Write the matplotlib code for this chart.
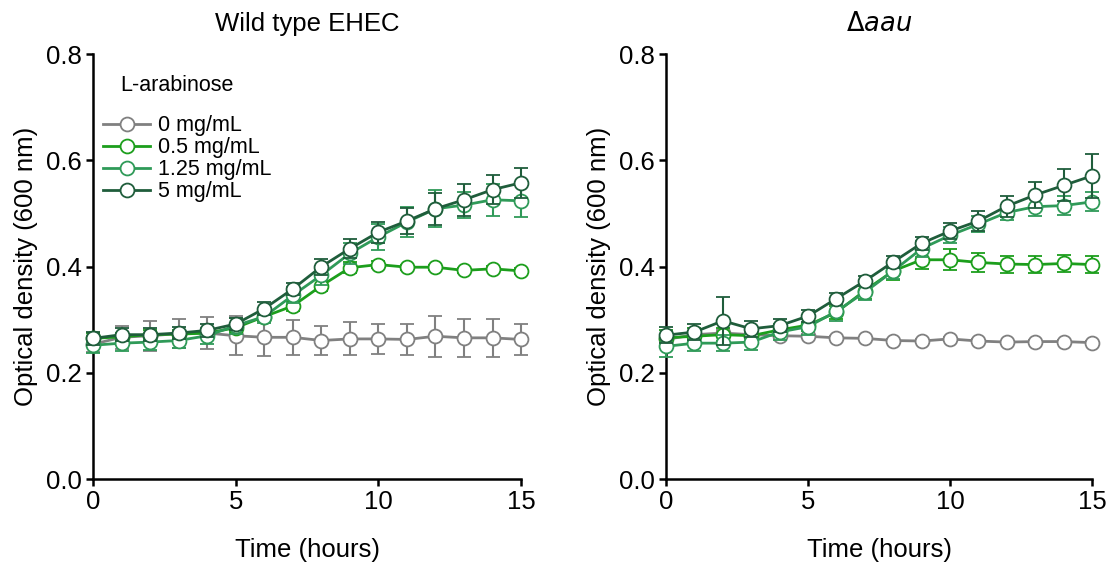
import numpy as np
import matplotlib
matplotlib.use("Agg")
import matplotlib.pyplot as plt

plt.rcParams['font.family'] = ['Liberation Sans', 'DejaVu Sans']

hours = np.arange(16)
labels = ['0 mg/mL', '0.5 mg/mL', '1.25 mg/mL', '5 mg/mL']
colors = ['#808080', '#1c9e1c', '#2f9a58', '#1f5d3b']

# wild type EHEC, mean OD600
wt_0 = [0.254, 0.267, 0.270, 0.274, 0.275, 0.270, 0.267, 0.267, 0.261, 0.264, 0.264, 0.263, 0.269, 0.266, 0.266, 0.263]
wt_05 = [0.265, 0.268, 0.272, 0.273, 0.275, 0.285, 0.306, 0.326, 0.364, 0.398, 0.404, 0.399, 0.399, 0.393, 0.396, 0.392]
wt_125 = [0.252, 0.256, 0.258, 0.261, 0.270, 0.289, 0.306, 0.346, 0.384, 0.425, 0.456, 0.484, 0.509, 0.516, 0.526, 0.524]
wt_5 = [0.265, 0.272, 0.272, 0.275, 0.280, 0.292, 0.321, 0.358, 0.400, 0.434, 0.465, 0.486, 0.509, 0.526, 0.545, 0.558]
wt_0_err = [0.015, 0.022, 0.028, 0.028, 0.030, 0.037, 0.035, 0.033, 0.028, 0.031, 0.029, 0.030, 0.039, 0.036, 0.036, 0.030]
wt_05_err = [0.010, 0.008, 0.008, 0.008, 0.008, 0.008, 0.008, 0.010, 0.010, 0.010, 0.006, 0.005, 0.005, 0.005, 0.005, 0.005]
wt_125_err = [0.015, 0.015, 0.015, 0.015, 0.015, 0.015, 0.012, 0.015, 0.018, 0.020, 0.025, 0.028, 0.035, 0.025, 0.030, 0.030]
wt_5_err = [0.012, 0.012, 0.012, 0.012, 0.012, 0.012, 0.012, 0.012, 0.015, 0.018, 0.020, 0.025, 0.030, 0.030, 0.027, 0.028]

# delta aau mutant, mean OD600
aau_0 = [0.263, 0.272, 0.275, 0.272, 0.270, 0.269, 0.266, 0.265, 0.261, 0.260, 0.264, 0.260, 0.258, 0.259, 0.259, 0.257]
aau_05 = [0.266, 0.269, 0.272, 0.270, 0.281, 0.290, 0.314, 0.355, 0.392, 0.413, 0.413, 0.408, 0.405, 0.404, 0.406, 0.404]
aau_125 = [0.250, 0.256, 0.256, 0.258, 0.277, 0.287, 0.316, 0.352, 0.392, 0.434, 0.459, 0.480, 0.502, 0.513, 0.515, 0.522]
aau_5 = [0.271, 0.277, 0.298, 0.283, 0.289, 0.307, 0.340, 0.373, 0.409, 0.444, 0.467, 0.486, 0.514, 0.535, 0.553, 0.571]
aau_0_err = [0.005, 0.005, 0.005, 0.004, 0.004, 0.004, 0.003, 0.003, 0.003, 0.003, 0.003, 0.003, 0.003, 0.003, 0.003, 0.003]
aau_05_err = [0.015, 0.015, 0.012, 0.012, 0.012, 0.012, 0.012, 0.015, 0.018, 0.018, 0.020, 0.018, 0.016, 0.016, 0.016, 0.016]
aau_125_err = [0.020, 0.015, 0.015, 0.015, 0.015, 0.015, 0.018, 0.015, 0.015, 0.015, 0.015, 0.015, 0.015, 0.018, 0.018, 0.018]
aau_5_err = [0.015, 0.015, 0.045, 0.015, 0.012, 0.012, 0.010, 0.010, 0.012, 0.012, 0.015, 0.018, 0.020, 0.024, 0.030, 0.041]

panels = [
    ('Wild type EHEC', [wt_0, wt_05, wt_125, wt_5], [wt_0_err, wt_05_err, wt_125_err, wt_5_err]),
    (r'$\Delta$$\it{aau}$', [aau_0, aau_05, aau_125, aau_5], [aau_0_err, aau_05_err, aau_125_err, aau_5_err]),
]

fig = plt.figure(figsize=(11.12, 5.65), dpi=100)
ax_left = fig.add_axes([0.0836, 0.152, 0.385, 0.752])
ax_right = fig.add_axes([0.599, 0.152, 0.383, 0.752])

for ax, (title, means, errs) in zip([ax_left, ax_right], panels):
    for i in range(4):
        ax.errorbar(hours, means[i], yerr=errs[i], color=colors[i], lw=2,
                    marker='o', ms=10, mfc='white', mec=colors[i], mew=1.3,
                    capsize=5, elinewidth=1.5, capthick=1.5, clip_on=False,
                    label=labels[i], zorder=3 + i)
    ax.set_xlim(0, 15)
    ax.set_ylim(0, 0.8)
    ax.set_xticks([0, 5, 10, 15])
    ax.set_yticks([0.0, 0.2, 0.4, 0.6, 0.8])
    ax.set_yticklabels(['0.0', '0.2', '0.4', '0.6', '0.8'])
    ax.spines['top'].set_visible(False)
    ax.spines['right'].set_visible(False)
    ax.spines['left'].set_linewidth(1.8)
    ax.spines['bottom'].set_linewidth(1.8)
    ax.tick_params(width=1.8, length=5, labelsize=18.5, pad=3)
    ax.set_xlabel('Time (hours)', fontsize=18.5, labelpad=17)
    ax.set_ylabel('Optical density (600 nm)', fontsize=18.5, labelpad=6)
    ax.set_title(title, fontsize=18.5, pad=17)

handles, labs = ax_left.get_legend_handles_labels()
handles = [h[0] for h in handles]
ax_left.legend(handles, labs, loc='upper left', bbox_to_anchor=(-0.022, 0.902),
               frameon=False, fontsize=15.5, handlelength=2.2,
               labelspacing=0.05, handletextpad=0.35)
ax_left.text(0.063, 0.927, 'L-arabinose', transform=ax_left.transAxes,
             fontsize=15.5, va='center', ha='left')

fig.savefig('out.png', dpi=100)
